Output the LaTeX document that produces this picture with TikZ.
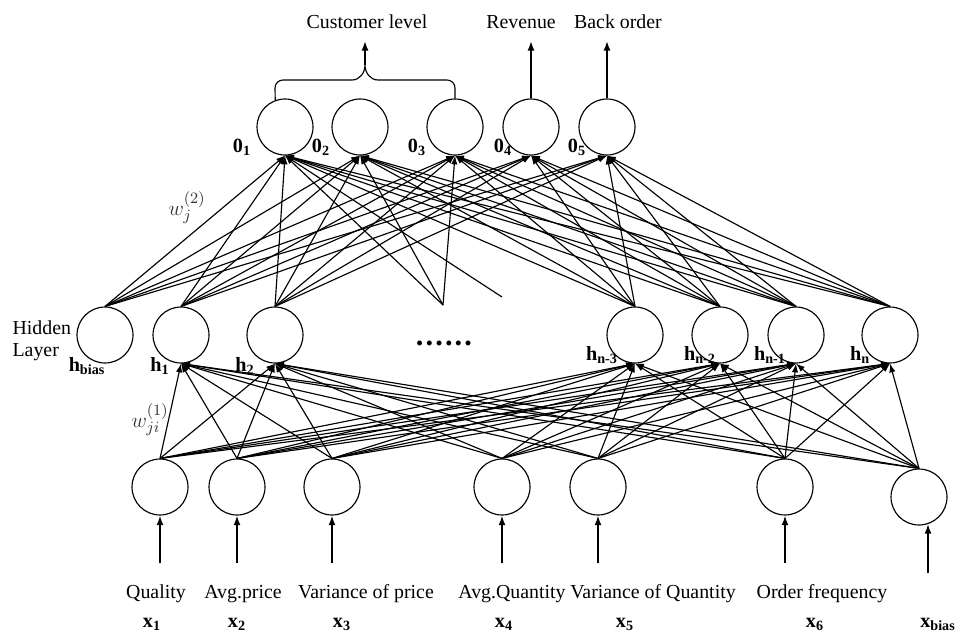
\documentclass[tikz,border=0pt]{standalone}
\usepackage{fontspec}
\setmainfont{Liberation Serif}
\usetikzlibrary{arrows.meta}

\tikzset{
  neuron/.style={draw, circle, minimum size=1.12cm, inner sep=0pt},
  link/.style={-{Latex[length=5pt,width=3.6pt]}},
  feed/.style={-{Latex[length=5.5pt,width=4pt]}, line width=0.9pt},
  idx/.style={anchor=base, inner sep=0pt, font=\fontsize{11.5}{13}\selectfont\bfseries},
  txt/.style={anchor=base, inner sep=0pt},
  wt/.style={text=black!80, inner sep=0pt, font=\fontsize{13}{15}\selectfont}
}

\begin{document}
\begin{tikzpicture}[x=0.02cm, y=-0.02cm, line width=0.65pt, font=\fontsize{11.3}{12.5}\selectfont]
   \useasboundingbox (0,0) rectangle (955,635);

   \node[neuron] (o1) at (285,127) {};
   \node[neuron] (o2) at (360,127) {};
   \node[neuron] (o3) at (455,127) {};
   \node[neuron] (o4) at (531,127) {};
   \node[neuron] (o5) at (607,127) {};

   \node[neuron] (hb) at (105,335) {};
   \node[neuron] (h1) at (181,335) {};
   \node[neuron] (h2) at (275,335) {};
   \node[neuron] (hn3) at (635,335) {};
   \node[neuron] (hn2) at (720,335) {};
   \node[neuron] (hn1) at (796,335) {};
   \node[neuron] (hn) at (890,335) {};

   \node[neuron] (x1) at (160,487) {};
   \node[neuron] (x2) at (237,487) {};
   \node[neuron] (x3) at (332,487) {};
   \node[neuron] (x4) at (502,487) {};
   \node[neuron] (x5) at (598,487) {};
   \node[neuron] (x6) at (785,487) {};
   \node[neuron] (xb) at (919,497) {};

   \coordinate (d1) at (443,305);
   \coordinate (d2) at (502,297);
   \coordinate (cl) at (365,65);
   \coordinate (top) at (0,41);
   \coordinate (base) at (0,563);
   \coordinate (inb) at (928,573);

   \foreach \j in {hb,h1,h2,hn3,hn2,hn1,hn}
     \foreach \o in {o1,o2,o3,o4,o5}
       \draw[link] (\j.north) -- (\o.south);
   \foreach \o in {o1,o2,o3}
     \draw[link] (d1) -- (\o.south);
   \draw[link] (d2) -- (o1.south);

   \foreach \i in {x1,x2,x3,x4,x5,x6,xb}
     \foreach \j in {h1,h2,hn3,hn2,hn1,hn}
       \draw[link] (\i.north) -- (\j.south);

   \foreach \i in {x1,x2,x3,x4,x5,x6}
     \draw[feed] (\i.south |- base) -- (\i.south);
   \draw[feed] (inb) -- (inb |- xb.-71);

   \draw (o1.110) -- (275,88) to[out=90,in=180] (283,80) -- (352,80)
     to[out=0,in=-90] (cl) to[out=-90,in=180] (378,80) -- (447,80)
     to[out=0,in=90] (455,88) -- (o3.north);
   \draw[feed] (cl) -- (cl |- top);
   \draw[feed] (o4.north) -- (o4.north |- top);
   \draw[feed] (o5.north) -- (o5.north |- top);

   \node[txt] (tcl) at (367,29) {Customer level};
   \node[txt] (trev) at (521,29) {Revenue};
   \node[txt] (tbo) at (618,29) {Back order};

   \node[idx] (lo1) at (242,152) {0\textsubscript{1}};
   \node[idx] (lo2) at (321,152) {0\textsubscript{2}};
   \node[idx] (lo3) at (417,152) {0\textsubscript{3}};
   \node[idx] (lo4) at (503,152) {0\textsubscript{4}};
   \node[idx] (lo5) at (577,152) {0\textsubscript{5}};

   \node[anchor=west, align=left, inner sep=0pt] (thl) at (12,341) {Hidden\\Layer};
   \node[idx] (lhb) at (87,371) {h\textsubscript{bias}};
   \node[idx] (lh1) at (160,371) {h\textsubscript{1}};
   \node[idx] (lh2) at (245,371) {h\textsubscript{2}};
   \node[idx] (lhn3) at (602,360) {h\textsubscript{n-3}};
   \node[idx] (lhn2) at (700,360) {h\textsubscript{n-2}};
   \node[idx] (lhn1) at (770,360) {h\textsubscript{n-1}};
   \node[idx] (lhn) at (860,360) {h\textsubscript{n}};
   \node[anchor=base, inner sep=0pt] (dots) at (444,345) {\bfseries\LARGE .\kern1.2pt.\kern1.2pt.\kern1.2pt.\kern1.2pt.\kern1.2pt.};

   \node[wt] (w2) at (187,208) {$w_j^{(2)}$};
   \node[wt] (w1) at (150,420) {$w_{ji}^{(1)}$};

   \node[txt] (tq) at (156,598) {Quality};
   \node[txt] (tap) at (243,598) {Avg.price};
   \node[txt] (tvp) at (366,598) {Variance of price};
   \node[txt] (taq) at (512,598) {Avg.Quantity};
   \node[txt] (tvq) at (653,598) {Variance of Quantity};
   \node[txt] (tof) at (822,598) {Order frequency};

   \node[idx] (lx1) at (152,627) {x\textsubscript{1}};
   \node[idx] (lx2) at (237,627) {x\textsubscript{2}};
   \node[idx] (lx3) at (342,627) {x\textsubscript{3}};
   \node[idx] (lx4) at (504,627) {x\textsubscript{4}};
   \node[idx] (lx5) at (625,627) {x\textsubscript{5}};
   \node[idx] (lx6) at (815,627) {x\textsubscript{6}};
   \node[idx] (lxb) at (938,627) {x\textsubscript{bias}};
\end{tikzpicture}
\end{document}
